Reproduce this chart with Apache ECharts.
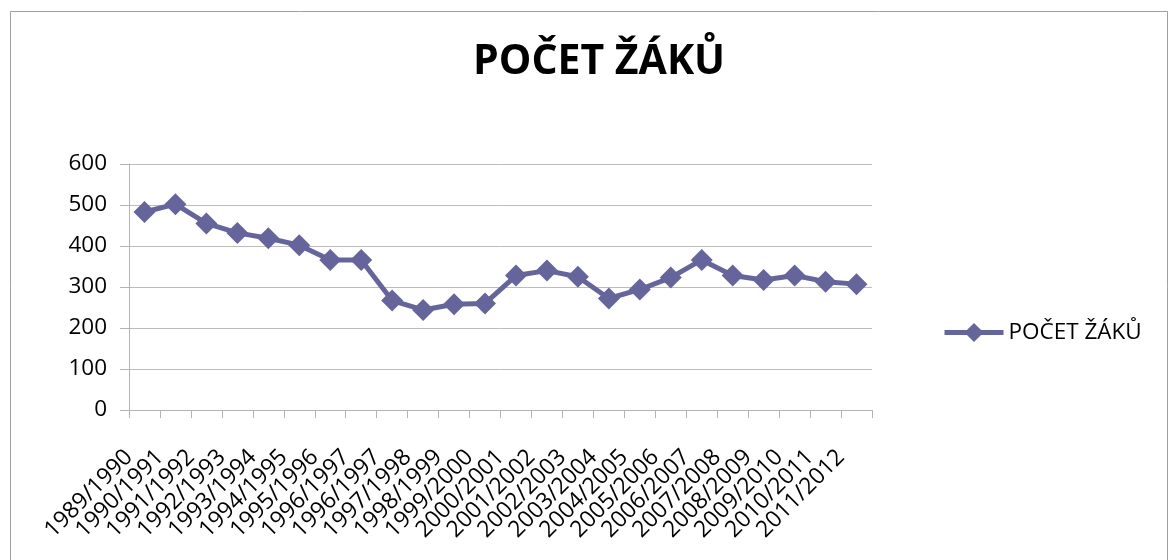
<!DOCTYPE html>
<html>
<head>
	<meta charset="utf-8">
	<title>počet žáků</title>
	<style>
		html, body, #chart {
			margin: 0;
			padding: 0;
			width: 1170px;
			height: 560px;
			background: #fff;
		}
	</style>
	<script src="https://cdn.jsdelivr.net/npm/echarts@6/dist/echarts.min.js"></script>
</head>
<body>
<div id="chart"></div>
<script>

var years = ['1989/1990', '1990/1991', '1991/1992', '1992/1993', '1993/1994', '1994/1995',
	'1995/1996', '1996/1997', '1996/1997', '1997/1998', '1998/1999', '1999/2000',
	'2000/2001', '2001/2002', '2002/2003', '2003/2004', '2004/2005', '2005/2006',
	'2006/2007', '2007/2008', '2008/2009', '2009/2010', '2010/2011', '2011/2012'];
var pupils = [483, 502, 455, 432, 419, 402, 366, 366, 267, 244, 258, 260,
	328, 340, 325, 272, 294, 323, 366, 328, 317, 328, 313, 307];
var yTicks = [0, 100, 200, 300, 400, 500, 600];

var seriesName = 'POČET ŽÁKŮ';
var lineColor = '#65659b';

var chart = echarts.init(document.getElementById('chart'));

chart.setOption({
	animation: false,
	backgroundColor: '#fff',
	title: {
		text: seriesName,
		left: 468,
		top: 37,
		textStyle: {
			fontFamily: 'Open Sans',
			fontWeight: 'bold',
			fontSize: 41,
			color: '#000'
		}
	},
	legend: {
		data: [seriesName],
		orient: 'vertical',
		left: 937,
		top: 316,
		itemWidth: 59,
		itemHeight: 24,
		itemGap: 10,
		lineStyle: { width: 5 },
		textStyle: {
			fontFamily: 'Open Sans',
			fontSize: 22.5,
			color: '#000'
		}
	},
	grid: {
		left: 129,
		right: 298,
		top: 164,
		bottom: 150,
		containLabel: false
	},
	xAxis: {
		type: 'category',
		data: years,
		boundaryGap: true,
		axisLine: { lineStyle: { color: '#b4b4b4', width: 1 } },
		axisTick: { show: true, length: 8, lineStyle: { color: '#b4b4b4' } },
		axisLabel: {
			interval: 0,
			rotate: 45,
			margin: 28,
			padding: [0, 22, 0, 0],
			fontFamily: 'Open Sans',
			fontSize: 23,
			color: '#000'
		}
	},
	yAxis: {
		type: 'value',
		min: yTicks[0],
		max: yTicks[yTicks.length - 1],
		interval: 100,
		axisLine: { show: true, lineStyle: { color: '#b4b4b4', width: 1 } },
		axisTick: { show: true, length: 9, lineStyle: { color: '#b4b4b4' } },
		axisLabel: {
			margin: 22,
			fontFamily: 'Open Sans',
			fontSize: 22.5,
			color: '#000'
		},
		splitLine: { lineStyle: { color: '#bcbcbc', width: 1 } }
	},
	series: [{
		name: seriesName,
		type: 'line',
		data: pupils,
		symbol: 'diamond',
		symbolSize: 22,
		lineStyle: { color: lineColor, width: 5 },
		itemStyle: { color: lineColor }
	}],
	graphic: [{
		type: 'rect',
		shape: { x: 10.5, y: 11.5, width: 1157, height: 560 },
		style: { fill: null, stroke: '#a0a0a0', lineWidth: 1 },
		silent: true
	}]
});

</script>
</body>
</html>
